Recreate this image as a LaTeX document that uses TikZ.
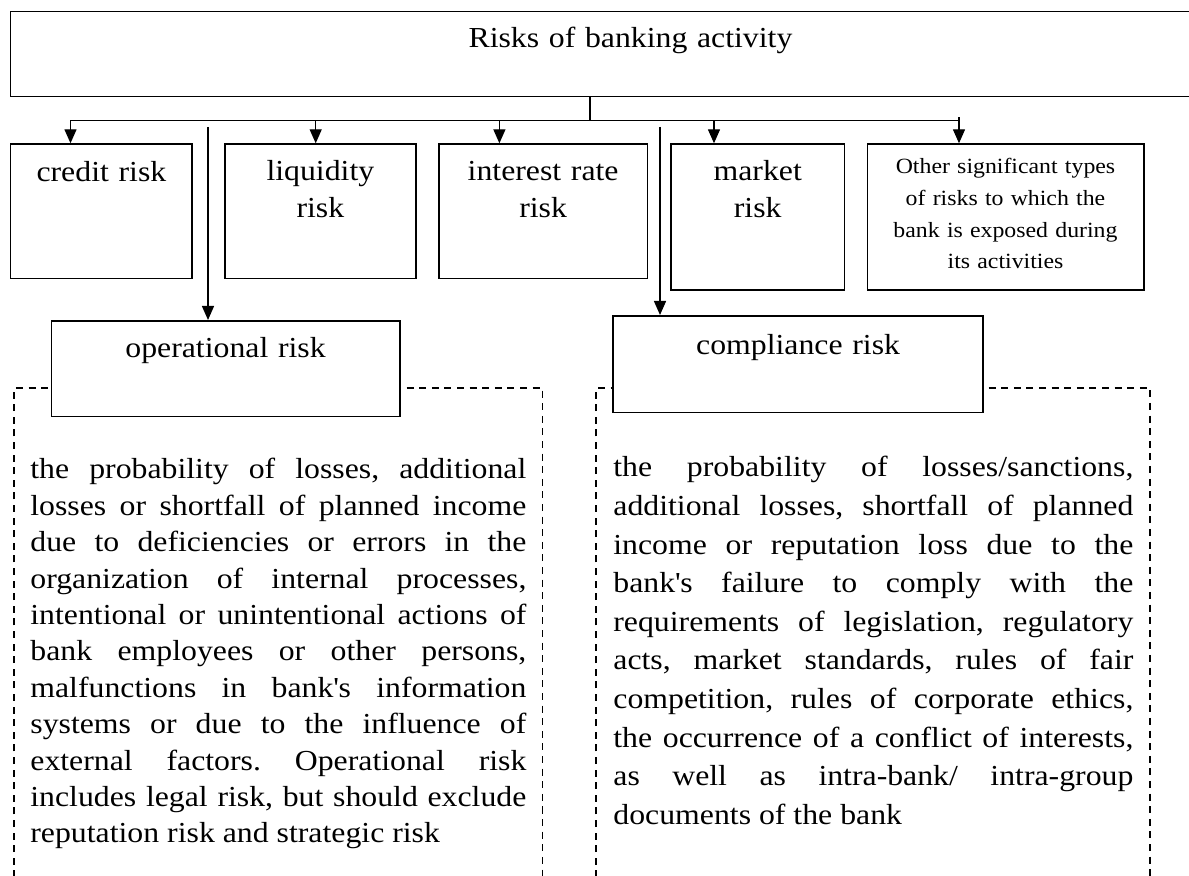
\documentclass[tikz,border=0pt]{standalone}
\usepackage{fontspec}
\setmainfont[Ligatures=NoCommon, FakeStretch=1.096]{Liberation Serif}
\usetikzlibrary{arrows.meta}
\frenchspacing

\begin{document}
\begin{tikzpicture}[x=0.5pt, y=-0.5pt,
    riskbox/.style={draw, line width=0.9pt, fill=white, inner sep=0pt, anchor=north west,
        align=center, font=\fontsize{14.5}{18.5}\selectfont},
    smallbox/.style={riskbox, font=\fontsize{10.86}{15.85}\selectfont},
    bodytext/.style={inner sep=0pt, anchor=base west, align=justify,
        execute at begin node={\tolerance=10000\hyphenpenalty=10000}},
    link/.style={line width=0.7pt, -{Triangle[length=7pt,width=6pt]}},
    trunk/.style={line width=0.7pt},
    frame/.style={line width=0.65pt, dash pattern=on 3.5pt off 2.8pt}]

    % Page
    \clip (0,0) rectangle (1189,876);
    \fill[white] (0,0) rectangle (1189,876);

    % Dashed frames round the two descriptions
    \draw[frame] (14,890) -- (14,388) -- (542.5,388) -- (542.5,890);
    \draw[frame] (596,890) -- (596,388) -- (1150,388) -- (1150,890);

    % Main box
    \node[riskbox, text width=620pt, text height=18.15pt, text depth=24.35pt]
        (banking) at (9.6,10.7) {Risks of banking activity};

    % First row of risks
    \node[riskbox, text width=90.9pt, text height=18.85pt, text depth=48.35pt]
        (credit) at (9.6,143.3) {credit risk};
    \node[riskbox, text width=95.5pt, text height=18.35pt, text depth=48.85pt]
        (liquidity) at (224,143.3) {liquidity\\risk};
    \node[riskbox, text width=104.25pt, text height=18.35pt, text depth=48.85pt]
        (interest) at (438,143.3) {interest rate\\risk};
    \node[riskbox, text width=86.8pt, text height=18.35pt, text depth=54.5pt]
        (market) at (670,143.3) {market\\risk};
    \node[smallbox, text width=138.1pt, text height=14.85pt, text depth=58pt]
        (other) at (866.5,143.3) {Other significant types\\of risks to which the\\bank is exposed during\\its activities};

    % Second row
    \node[riskbox, text width=174.15pt, text height=18.5pt, text depth=29.35pt]
        (operational) at (50.5,320) {operational risk};
    \node[riskbox, text width=185.2pt, text height=19.5pt, text depth=28.85pt]
        (compliance) at (612,315) {compliance risk};

    % Connectors
    \coordinate (hub) at (590,120.5);
    \draw[trunk] (hub |- banking.south) -- (hub);
    \foreach \n/\x in {credit/70.5, liquidity/315.7, interest/499.4, market/714, other/959} {
        \coordinate (b-\n) at (\x,120.5);
        \draw[link] (b-\n) -- (b-\n |- \n.north);
    }
    \draw[trunk] (b-credit) -- (b-other);
    \draw[trunk] (b-other) -- ++(0,-3);

    \coordinate (op-src) at (208,127);
    \coordinate (co-src) at (660,127);
    \draw[link] (op-src) -- (op-src |- operational.north);
    \draw[link] (co-src) -- (co-src |- compliance.north);

    % Descriptions
    \node[bodytext, text width=248pt, font=\fontsize{14.5}{18.2}\selectfont] (op-text) at (30,479)
        {the probability of losses, additional\linebreak
        losses or shortfall of planned income\linebreak
        due to deficiencies or errors in the\linebreak
        organization of internal processes,\linebreak
        intentional or unintentional actions of\linebreak
        bank employees or other persons,\linebreak
        malfunctions in bank\textquotesingle s information\linebreak
        systems or due to the influence of\linebreak
        external factors. Operational risk\linebreak
        includes legal risk, but should exclude\linebreak
        reputation risk and strategic risk};
    \node[bodytext, text width=260pt, font=\fontsize{14.5}{19.3}\selectfont] (co-text) at (613,477)
        {the probability of losses/sanctions,\linebreak
        additional losses, shortfall of planned\linebreak
        income or reputation loss due to the\linebreak
        bank\textquotesingle s failure to comply with the\linebreak
        requirements of legislation, regulatory\linebreak
        acts, market standards, rules of fair\linebreak
        competition, rules of corporate ethics,\linebreak
        the occurrence of a conflict of interests,\linebreak
        as well as intra-bank/ intra-group\linebreak
        documents of the bank};

\end{tikzpicture}
\end{document}
